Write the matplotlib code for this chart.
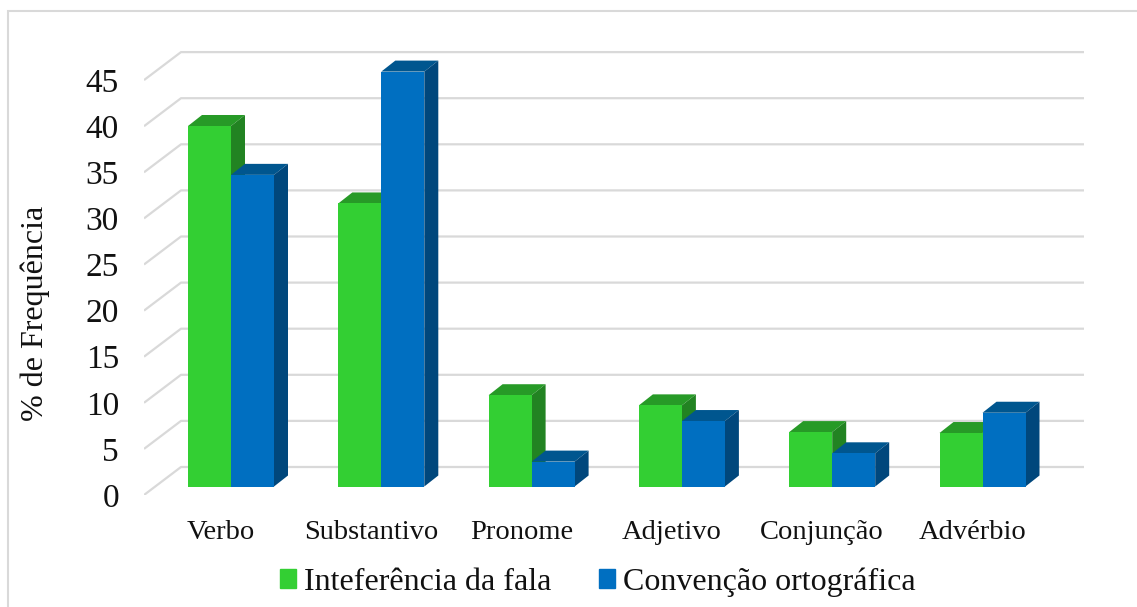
import numpy as np
import matplotlib.pyplot as plt
from matplotlib.patches import Patch, Polygon, Rectangle

plt.rcParams['font.family'] = ['Liberation Serif', 'DejaVu Serif']

categorias = ['Verbo', 'Substantivo', 'Pronome', 'Adjetivo', 'Conjunção', 'Advérbio']
fala = [39.1, 30.7, 9.9, 8.8, 5.9, 5.8]
ortografica = [33.8, 45.0, 2.7, 7.1, 3.6, 8.0]
ticks = [0, 5, 10, 15, 20, 25, 30, 35, 40, 45]

W, H = 1137, 607
fig = plt.figure(figsize=(W / 100, H / 100), dpi=100)
fig.patch.set_facecolor('white')

# pixel scale of the chart
px_x = 150.3
px_y = 9.22
x0 = 231
y0 = 486.5
left, right, top, bottom = 144, 1084, 40, 495
ax = fig.add_axes([left / W, 1 - bottom / H, (right - left) / W, (bottom - top) / H])
ax.set_xlim((left - x0) / px_x, (right - x0) / px_x)
ax.set_ylim((y0 - bottom) / px_y, (y0 - top) / px_y)
ax.patch.set_visible(False)
for s in ax.spines.values():
    s.set_visible(False)

# depth of the walls and of the bars
wall_dx, wall_dy = 37 / px_x, 28 / px_y
floor = (y0 - bottom) / px_y
bar_dx, bar_dy = 14 / px_x, 11 / px_y
w = 43 / px_x
xleft = (left - x0) / px_x
xright = (right - x0) / px_x

for t in ticks:
    ax.plot([xleft, xleft + wall_dx, xright], [floor + t, floor + t + wall_dy, floor + t + wall_dy],
            color='#d9d9d9', lw=1.6, zorder=1, solid_capstyle='butt')


def bar3d(x, v, front, topc, side, z):
    ax.bar(x, v, w, align='edge', color=front, edgecolor='none', zorder=z + 0.2)
    ax.add_patch(Polygon([(x, v), (x + bar_dx, v + bar_dy), (x + w + bar_dx, v + bar_dy), (x + w, v)],
                         color=topc, lw=0, zorder=z))
    ax.add_patch(Polygon([(x + w, 0), (x + w + bar_dx, bar_dy), (x + w + bar_dx, v + bar_dy), (x + w, v)],
                         color=side, lw=0, zorder=z))


for i in range(len(categorias)):
    bar3d(i - w, fala[i], '#33cf33', '#279a27', '#228322', 3)
    bar3d(i, ortografica[i], '#006fc1', '#00568f', '#00477c', 4)

ax.set_yticks(np.array(ticks) + floor)
ax.set_yticklabels(ticks)
ax.set_xticks(np.arange(len(categorias)) - 10 / px_x)
ax.set_xticklabels(categorias)
ax.tick_params(axis='y', length=0, pad=18, labelsize=24, labelcolor='#111111')
ax.tick_params(axis='x', length=0, pad=18, labelsize=20.5, labelcolor='#111111')
ax.set_ylabel('% de Frequência', fontsize=23, color='#111111', labelpad=0)
ax.yaxis.set_label_coords((50 - left) / (right - left), (bottom - 313) / (bottom - top))

handles = [Patch(color='#33cf33', label='Inteferência da fala'),
           Patch(color='#006fc1', label='Convenção ortográfica')]
fig.legend(handles=handles, loc='center', bbox_to_anchor=(597.5 / W, 1 - 582 / H), ncol=2, frameon=False,
           fontsize=23, handlelength=0.5, handleheight=0.5, handletextpad=0.25, columnspacing=1.5,
           labelcolor='#111111')

# chart border
fig.add_artist(Rectangle((8 / W, -0.02), 1.2, 1 - 11 / H + 0.02, transform=fig.transFigure,
                         fill=False, edgecolor='#d9d9d9', lw=1.5))

fig.savefig('out.png', dpi=100)
